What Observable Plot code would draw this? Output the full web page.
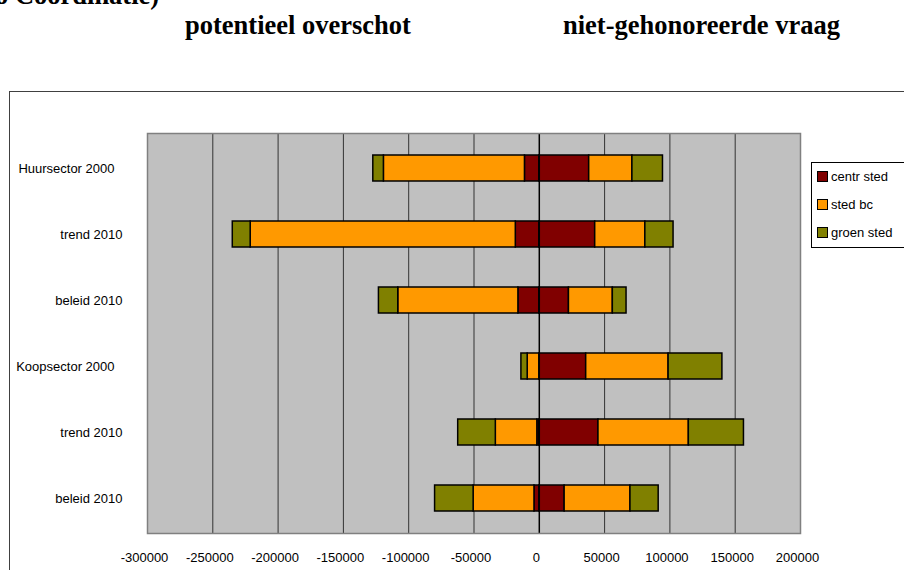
<!DOCTYPE html>
<html>
<head>
<meta charset="utf-8">
<script src="https://cdn.jsdelivr.net/npm/d3@7"></script>
<script src="https://cdn.jsdelivr.net/npm/@observablehq/plot@0.6"></script>
<style>
  html, body { margin: 0; padding: 0; background: #fff; overflow: hidden; }
  #wrap { position: relative; width: 904px; height: 570px; overflow: hidden; }
  .head { position: absolute; font-family: "Liberation Serif", "Times New Roman", serif; font-weight: bold; font-size: 26.5px; line-height: 26px; white-space: nowrap; color: #000; }
  #outer { position: absolute; left: 9px; top: 91px; width: 1000px; height: 1000px; border: 1.5px solid #404040; }
  #chart { position: absolute; left: 0; top: 0; }
  #legend { position: absolute; left: 811px; top: 162px; width: 110px; height: 84px; border: 1px solid #000; background: #fff; font-family: "Liberation Sans", Arial, sans-serif; font-size: 13px; }
  .item { position: absolute; left: 5px; height: 14px; line-height: 14px; white-space: nowrap; }
  .sw { display: inline-block; width: 9px; height: 9px; border: 1px solid #000; margin-right: 3px; vertical-align: -1px; }
</style>
</head>
<body>
<div id="wrap">
  <div class="head" style="left:-5px; top:-18px;">o Coordinatie)</div>
  <div class="head" style="left:185px; top:12px;">potentieel overschot</div>
  <div class="head" style="left:563px; top:12px;">niet-gehonoreerde vraag</div>
  <div id="outer"></div>
  <div id="chart"></div>
  <div id="legend"></div>
</div>
<script>
// Categories (top to bottom)
const rows = ["Huursector 2000", "trend 2010", "beleid 2010", "Koopsector 2000", "trend 2010", "beleid 2010"];
const series = ["centr sted", "sted bc", "groen sted"];
const colors = ["#800000", "#FF9900", "#808000"];

// potentieel overschot (negative side)
const centrNeg  = [-11000, -18000, -16000,     0,  -1500,  -3700];
const stedbcNeg = [-108000, -203000, -92000, -8900, -31800, -46600];
const groenNeg  = [-8100, -13700, -14800, -4800, -28800, -29500];

// niet-gehonoreerde vraag (positive side)
const centrPos  = [38200, 42800, 22700, 35900, 45300, 19400];
const stedbcPos = [33100, 38400, 33600, 63100, 69200, 50400];
const groenPos  = [23400, 21600, 10500, 41200, 42200, 21600];

const xTicks = [-300000, -250000, -200000, -150000, -100000, -50000, 0, 50000, 100000, 150000, 200000];

const negs = [centrNeg, stedbcNeg, groenNeg];
const poss = [centrPos, stedbcPos, groenPos];
const data = [];
rows.forEach((r, i) => {
  series.forEach((s, j) => {
    data.push({row: i, series: s, value: negs[j][i]});
    data.push({row: i, series: s, value: poss[j][i]});
  });
});

const idx = d3.range(rows.length);
const longRows = idx.filter(i => rows[i].endsWith("2000"));
const shortRows = idx.filter(i => !rows[i].endsWith("2000"));

const chart = Plot.plot({
  width: 904,
  height: 570,
  marginLeft: 147,
  marginRight: 104,
  marginTop: 133,
  marginBottom: 37,
  style: {background: "transparent", fontFamily: "'Liberation Sans', Arial, sans-serif", fontSize: "13px", color: "#000"},
  x: {domain: [-300000, 200000], ticks: xTicks, tickFormat: d => String(d)},
  y: {domain: idx, padding: 0.6, paddingOuter: 0.3},
  color: {domain: series, range: colors},
  marks: [
    Plot.frame({fill: "#C0C0C0", stroke: null}),
    Plot.ruleX(xTicks.filter(t => t > -300000 && t < 200000 && t !== 0), {stroke: "#333", strokeWidth: 1}),
    Plot.barX(data, Plot.stackX({x: "value", y: "row", fill: "series", stroke: "#000", strokeWidth: 1.5, inset: 0})),
    Plot.ruleX([0], {stroke: "#000", strokeWidth: 1.5}),
    Plot.frame({stroke: "#808080", strokeWidth: 1.5}),
    Plot.axisX({ticks: xTicks, tickFormat: d => String(d), tickSize: 0, tickPadding: 19, dx: -3, label: null}),
    Plot.axisY({ticks: shortRows, tickFormat: i => rows[i], tickSize: 0, tickPadding: 25, label: null}),
    Plot.axisY({ticks: longRows, tickFormat: i => rows[i], tickSize: 0, tickPadding: 33, label: null})
  ]
});
document.getElementById("chart").appendChild(chart);

const legend = document.getElementById("legend");
const tops = [7, 35, 63];
series.forEach((s, j) => {
  const it = document.createElement("div");
  it.className = "item";
  it.style.top = tops[j] + "px";
  it.innerHTML = `<span class="sw" style="background:${colors[j]}"></span>${s}`;
  legend.appendChild(it);
});
</script>
</body>
</html>
